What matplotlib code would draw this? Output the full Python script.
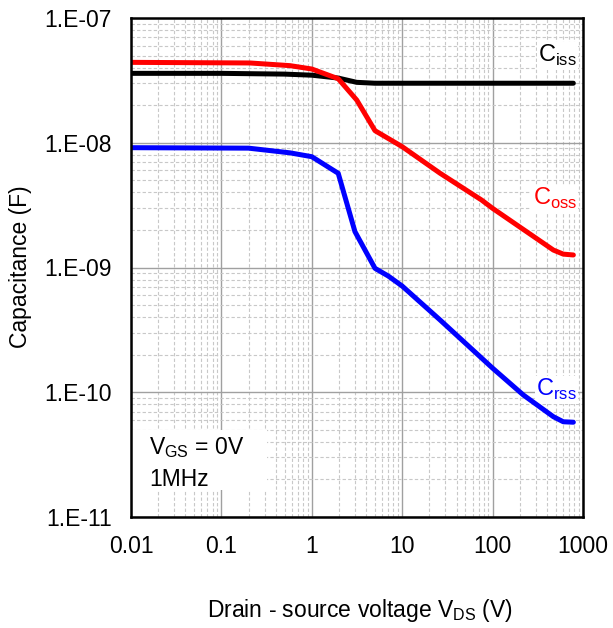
import matplotlib
matplotlib.use("Agg")
import matplotlib.pyplot as plt
from matplotlib.patches import Rectangle
from matplotlib.ticker import LogLocator, FixedLocator, FixedFormatter, NullFormatter

plt.rcParams['font.family'] = ['Liberation Sans', 'DejaVu Sans']

# Datos
vds_iss = [0.01, 0.1, 0.5, 1.0, 1.96, 3.14, 5.0, 10, 100, 782]
ciss = [3.6e-8, 3.6e-8, 3.55e-8, 3.48e-8, 3.3e-8, 3.05e-8, 3.0e-8, 3.0e-8, 3.0e-8, 3.0e-8]

vds_oss = [0.01, 0.207, 0.574, 1.0, 1.96, 3.14, 5.0, 10, 26.2, 75.7, 100, 470, 605, 782]
coss = [4.41e-8, 4.36e-8, 4.15e-8, 3.9e-8, 3.26e-8, 2.2e-8, 1.25e-8, 9.3e-9, 5.7e-9,
        3.47e-9, 2.98e-9, 1.38e-9, 1.28e-9, 1.26e-9]

vds_rss = [0.01, 0.2, 0.574, 1.0, 1.96, 3.0, 5.0, 7.0, 10, 26.2, 100, 219, 470, 605, 782]
crss = [9.13e-9, 9.05e-9, 8.3e-9, 7.73e-9, 5.69e-9, 1.94e-9, 9.85e-10, 8.55e-10, 7.1e-10,
        3.8e-10, 1.56e-10, 9.5e-11, 6.37e-11, 5.8e-11, 5.75e-11]

x_ticks = [0.01, 0.1, 1, 10, 100, 1000]
x_labels = ['0.01', '0.1', '1', '10', '100', '1000']
y_ticks = [1e-11, 1e-10, 1e-9, 1e-8, 1e-7]
y_labels = ['1.E-11', '1.E-10', '1.E-09', '1.E-08', '1.E-07']

W, H = 613, 628
fs = 16.5

fig = plt.figure(figsize=(W / 100, H / 100), dpi=100)
ax = fig.add_axes([131 / W, 1 - 517 / H, (583 - 131) / W, (517 - 18) / H])

ax.plot(vds_iss, ciss, color='black', linewidth=3.6, solid_capstyle='round', zorder=3)
ax.plot(vds_oss, coss, color='#ff0000', linewidth=3.6, solid_capstyle='round', zorder=3)
ax.plot(vds_rss, crss, color='#0000ff', linewidth=3.6, solid_capstyle='round', zorder=3)

ax.set_xscale('log')
ax.set_yscale('log')
ax.set_xlim(0.01, 1000)
ax.set_ylim(1e-11, 1e-7)

ax.xaxis.set_major_locator(FixedLocator(x_ticks))
ax.xaxis.set_major_formatter(FixedFormatter(x_labels))
ax.yaxis.set_major_locator(FixedLocator(y_ticks))
ax.yaxis.set_major_formatter(FixedFormatter(y_labels))
ax.xaxis.set_minor_locator(LogLocator(base=10, subs=range(2, 10), numticks=20))
ax.yaxis.set_minor_locator(LogLocator(base=10, subs=range(2, 10), numticks=20))
ax.xaxis.set_minor_formatter(NullFormatter())
ax.yaxis.set_minor_formatter(NullFormatter())

ax.grid(True, which='major', color='#a0a0a0', linewidth=1.0, linestyle='-')
ax.grid(True, which='minor', color='#c8c8c8', linewidth=0.8, linestyle=(0, (3, 2)))
ax.set_axisbelow(True)

ax.tick_params(which='both', length=0, labelsize=fs)
ax.tick_params(axis='x', pad=13)
ax.tick_params(axis='y', pad=14)
for s in ax.spines.values():
    s.set_linewidth(1.8)
    s.set_color('black')
    s.set_zorder(5)

# titulos de ejes
fig.text(21 / W, 1 - 267 / H, 'Capacitance (F)', rotation=90, ha='center', va='center', fontsize=fs)
fig.text(360 / W, 1 - 611 / H, 'Drain - source voltage V$_{\\mathregular{DS}}$ (V)',
         ha='center', va='center', fontsize=fs)

# etiquetas de curvas (debajo de las lineas)
lbl = dict(ha='right', va='baseline', fontsize=fs + 0.5, zorder=2.5, transform=fig.transFigure,
           bbox=dict(facecolor='white', edgecolor='none', pad=1))
ax.text(577 / W, 1 - 62 / H, 'C$_{\\mathregular{iss}}$', color='black', **lbl)
ax.text(577 / W, 1 - 205 / H, 'C$_{\\mathregular{oss}}$', color='#ff0000', **lbl)
ax.text(577 / W, 1 - 396 / H, 'C$_{\\mathregular{rss}}$', color='#0000ff', **lbl)

# cuadro de condiciones
ax.add_patch(Rectangle((0.0, 0.055), 0.30, 0.12, transform=ax.transAxes,
                       facecolor='white', edgecolor='none', zorder=2))
fig.text(149 / W, 1 - 448 / H, 'V$_{\\mathregular{GS}}$ = 0V', ha='left', va='center', fontsize=fs, zorder=6)
fig.text(149 / W, 1 - 479 / H, '1MHz', ha='left', va='center', fontsize=fs, zorder=6)

fig.savefig('out.png', dpi=100)
